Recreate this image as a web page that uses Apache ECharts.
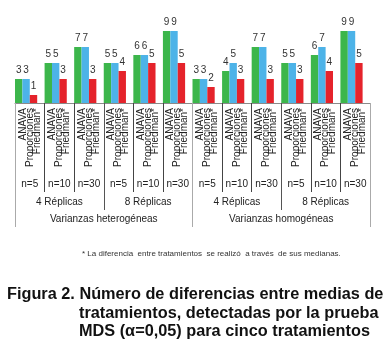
<!DOCTYPE html>
<html>
<head>
<meta charset="utf-8">
<script src="https://cdn.jsdelivr.net/npm/echarts@6/dist/echarts.min.js"></script>
<style>html,body{margin:0;padding:0;background:#fff}#c{width:385px;height:351px}</style>
</head>
<body>
<div id="c"></div>
<script>
var methodLabel = 'ANAVA\nProporciones\nFriedman*';
var nLabels = ['n=5','n=10','n=30','n=5','n=10','n=30','n=5','n=10','n=30','n=5','n=10','n=30'];
var replicaLabels = ['4 Réplicas','8 Réplicas','4 Réplicas','8 Réplicas'];
var varianceLabels = ['Varianzas heterogéneas','Varianzas homogéneas'];
var anava = [3,5,7,5,6,9,3,4,7,5,6,9];
var proporciones = [3,5,7,5,6,9,3,5,7,5,7,9];
var friedman = [1,3,3,4,5,5,2,3,3,3,4,5];
var footnote = '* La diferencia  entre tratamientos  se realizó  a través  de sus medianas.';
var captionLines = ['Figura 2. Número de diferencias entre medias de','tratamientos, detectadas por la prueba','MDS (α=0,05) para cinco tratamientos'];

var NARROW = "'Liberation Sans Narrow','Arial Narrow','Liberation Sans',Arial,sans-serif";
var BOLD = "'Liberation Sans',Arial,sans-serif";
var cats = nLabels.map(function(_, i){ return 'c' + i; });
var empty = nLabels.map(function(){ return 0; });

var chart = echarts.init(document.getElementById('c'), null, {renderer:'canvas'});
var valueLabel = {show:true, position:'top', distance:4, fontSize:10, color:'#333', fontFamily:NARROW};
function bar(name, data, color, lbl){
  return {name:name, type:'bar', data:data, xAxisIndex:0, yAxisIndex:0, barGap:'0%', barCategoryGap:'0%',
    itemStyle:{color:color}, label: lbl ? valueLabel : {show:false}, silent:true};
}
var capStyle = {fontSize:16.3, fontWeight:'bold', color:'#111', fontFamily:BOLD};
chart.setOption({
  animation:false,
  grid:{left:15, right:15, top:23, bottom:248},
  title:[
    {text:footnote, left:82, top:250, padding:0, textStyle:{fontSize:8, fontWeight:'normal', color:'#333', fontFamily:NARROW}},
    {text:captionLines[0], left:7, top:287, padding:0, textStyle:capStyle},
    {text:captionLines[1], left:79, top:305.5, padding:0, textStyle:capStyle},
    {text:captionLines[2], left:79, top:323.5, padding:0, textStyle:capStyle}
  ],
  xAxis:[
    {type:'category', position:'bottom', data:cats,
      axisLine:{show:true, lineStyle:{color:'#8a8a8a', width:1}},
      axisTick:{show:true, interval:0, length:89, lineStyle:{color:'#444'}},
      axisLabel:{interval:0, rotate:90, margin:5, fontSize:10, lineHeight:7, color:'#222', fontFamily:BOLD,
        padding:[0,0,9,0], formatter:function(){ return methodLabel; }}},
    {type:'category', position:'bottom', data:nLabels,
      axisLine:{show:false}, axisTick:{show:false},
      axisLabel:{interval:0, margin:76, fontSize:10, color:'#222', fontFamily:NARROW}},
    {type:'category', position:'bottom', data:replicaLabels,
      axisLine:{show:false},
      axisTick:{show:true, interval:0, length:107, lineStyle:{color:'#555'}},
      axisLabel:{interval:0, margin:94, fontSize:10, color:'#222', fontFamily:NARROW}},
    {type:'category', position:'bottom', data:varianceLabels,
      axisLine:{show:false},
      axisTick:{show:true, interval:0, length:124, lineStyle:{color:'#aaa'}},
      axisLabel:{interval:0, margin:111, fontSize:10, color:'#222', fontFamily:NARROW}}
  ],
  yAxis:{type:'value', min:0, max:10, show:false, splitLine:{show:false}},
  series:[
    bar('ANAVA', anava, '#3cb64b', true),
    bar('Proporciones', proporciones, '#4db3e8', true),
    bar('Friedman*', friedman, '#e5232b', true),
    bar('', empty, 'rgba(0,0,0,0)', false)
  ]
});
</script>
</body>
</html>
